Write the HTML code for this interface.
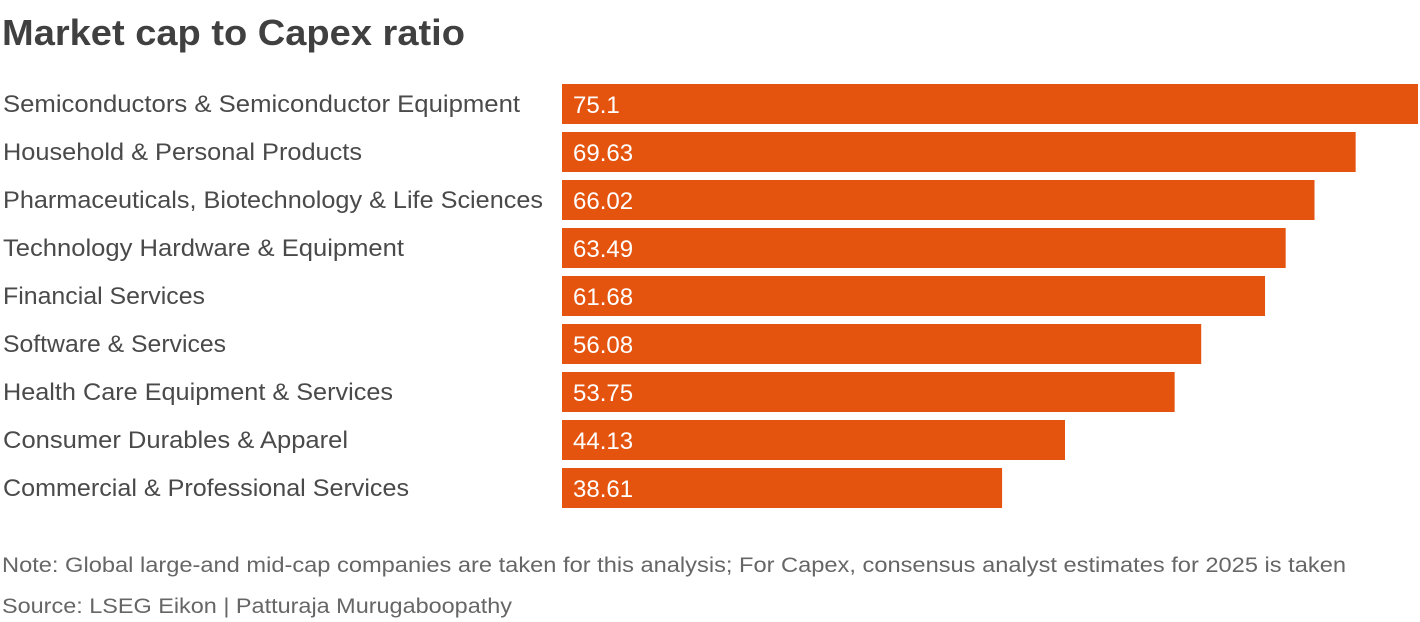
<!DOCTYPE html>
<html><head><meta charset="utf-8"><style>
body{margin:0;background:#fff;}
svg{display:block;font-family:"Liberation Sans",sans-serif;}
</style></head><body>
<svg id="chart" width="1420" height="622">
<text x="2" y="45" font-size="36" font-weight="bold" fill="#404040" textLength="463" lengthAdjust="spacingAndGlyphs">Market cap to Capex ratio</text>
<g id="bars"></g>
<text x="2" y="572" font-size="21" fill="#666" textLength="1344" lengthAdjust="spacingAndGlyphs">Note: Global large-and mid-cap companies are taken for this analysis; For Capex, consensus analyst estimates for 2025 is taken</text>
<text x="2" y="613" font-size="21" fill="#666" textLength="510" lengthAdjust="spacingAndGlyphs">Source: LSEG Eikon | Patturaja Murugaboopathy</text>
</svg>
<script>
const categories=["Semiconductors & Semiconductor Equipment","Household & Personal Products","Pharmaceuticals, Biotechnology & Life Sciences","Technology Hardware & Equipment","Financial Services","Software & Services","Health Care Equipment & Services","Consumer Durables & Apparel","Commercial & Professional Services"];
const values=[75.1,69.63,66.02,63.49,61.68,56.08,53.75,44.13,38.61];
const valueLabels=["75.1","69.63","66.02","63.49","61.68","56.08","53.75","44.13","38.61"];
const NS="http://www.w3.org/2000/svg";
const x0=562,x1=1418,maxV=75.1;
const xScale=v=>x0+(v/maxV)*(x1-x0);
const yScale=i=>84+i*48;
const labelFit=[517,359,540,401,202,223,390,345,406];
const g=document.getElementById('bars');
categories.forEach((c,i)=>{
  const y=yScale(i);
  const t=document.createElementNS(NS,'text');
  
  
  t.setAttribute('x',3);t.setAttribute('y',y+28);
  t.setAttribute('font-size',24);t.setAttribute('fill','#4a4a4a');
  t.setAttribute('textLength',labelFit[i]);t.setAttribute('lengthAdjust','spacingAndGlyphs');
  t.textContent=c;g.appendChild(t);
  const r=document.createElementNS(NS,'rect');
  
  
  r.setAttribute('x',x0);r.setAttribute('y',y);
  r.setAttribute('width',xScale(values[i])-x0);r.setAttribute('height',40);
  r.setAttribute('fill','#e5540f');g.appendChild(r);
  const v=document.createElementNS(NS,'text');
  
  
  v.setAttribute('x',573);v.setAttribute('y',y+29);
  v.setAttribute('font-size',24);v.setAttribute('fill','#fff');
  v.textContent=valueLabels[i];g.appendChild(v);
});
</script>
</body></html>
